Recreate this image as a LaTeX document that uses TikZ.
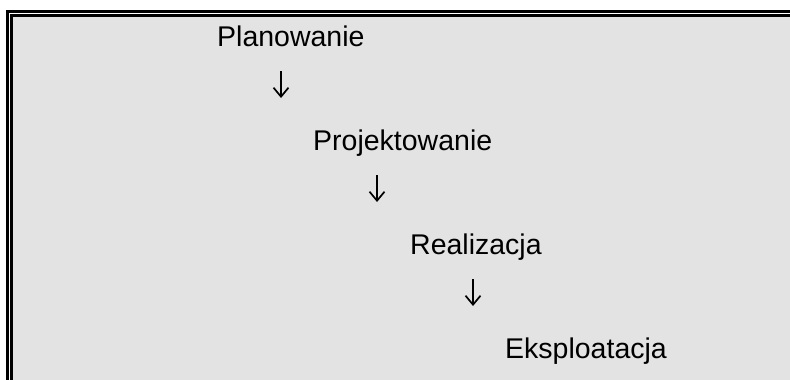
\documentclass[tikz,border=0pt]{standalone}
\usepackage{fontspec}
\setmainfont{Liberation Sans}
\usetikzlibrary{arrows.meta}
\definecolor{panelgray}{RGB}{227,227,227}
\tikzset{
  phase/.style={anchor=base west, inner sep=0, font=\fontsize{28.5}{30}\selectfont},
  flow/.style={line width=1.7pt, -{Straight Barb[length=9pt,width=15pt,line width=1.7pt]}},
  frame/.style={line width=3pt}
}

\begin{document}
\begin{tikzpicture}[x=1pt,y=-1pt]
\useasboundingbox (0,0) rectangle (790,380);
\fill[panelgray] (13,17) rectangle (800,390);
\draw[frame] (7.5,395) -- (7.5,11.5) -- (800,11.5);
\draw[frame] (11.5,395) -- (11.5,15.5) -- (800,15.5);
\node[phase] (plan) at (217,46) {Planowanie};
\node[phase] (proj) at (313,150) {Projektowanie};
\node[phase] (real) at (410,254) {Realizacja};
\node[phase] (eksp) at (505,358) {Eksploatacja};
\foreach \i/\x/\y in {1/281/71, 2/377/175, 3/473/279} {
 \coordinate (s\i) at (\x,\y);
 \coordinate (e\i) at (\x,\y+27);
 \draw[flow] (s\i) -- (e\i);
}
\end{tikzpicture}
\end{document}
